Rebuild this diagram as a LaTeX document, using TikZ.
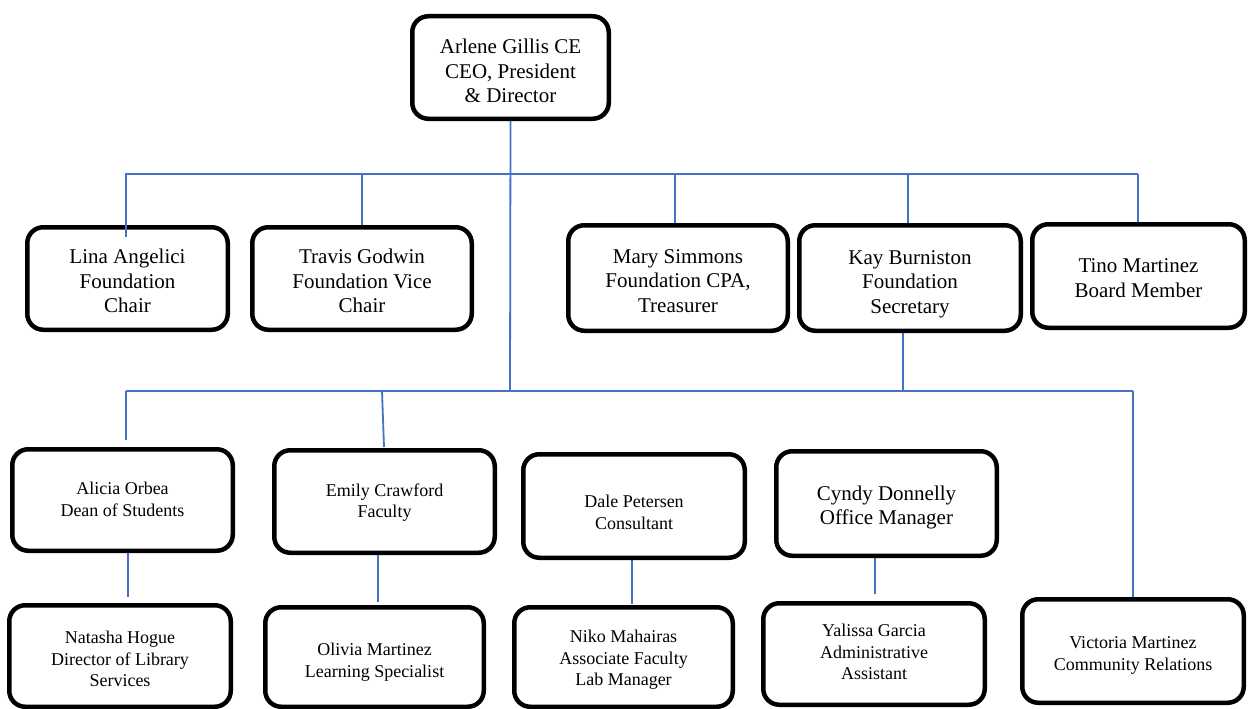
\documentclass[tikz,border=0pt]{standalone}
\usepackage{fontspec}
\setmainfont{Liberation Serif}
\usetikzlibrary{calc}
\definecolor{connblue}{HTML}{4472C4}
\pgfdeclarelayer{background}
\pgfsetlayers{background,main}
\tikzset{
  orgbox/.style={draw=black, line width=4.5pt, rounded corners=16pt, fill=white, align=center, inner sep=2pt},
  bigtext/.style={font=\fontsize{21}{24.5}\selectfont},
  smalltext/.style={font=\fontsize{18}{21.5}\selectfont},
  conn/.style={draw=connblue, line width=1.8pt}
}
\newcommand\boxlines[2]{\raisebox{#1}[\height][\depth]{\begin{tabular}{@{}c@{}}#2\end{tabular}}}
\begin{document}
\begin{tikzpicture}[x=1pt,y=-1pt]
\useasboundingbox (0,0) rectangle (1248,709);

% boxes
\node[orgbox, bigtext, minimum width=196.5pt, minimum height=102.5pt] (ceo) at (510.5,67.5) {\boxlines{-6pt}{Arlene Gillis CE\\CEO, President\\\& Director}};
\node[orgbox, bigtext, minimum width=200.5pt, minimum height=102.5pt] (lina) at (127.5,278.5) {\boxlines{-5pt}{Lina Angelici\\Foundation\\Chair}};
\node[orgbox, bigtext, minimum width=219.5pt, minimum height=102.5pt] (travis) at (362,278.5) {\boxlines{-5pt}{Travis Godwin\\Foundation Vice\\Chair}};
\node[orgbox, bigtext, minimum width=219.5pt, minimum height=105.5pt] (mary) at (678,278) {\boxlines{-5pt}{Mary Simmons\\Foundation CPA,\\Treasurer}};
\node[orgbox, bigtext, minimum width=221.5pt, minimum height=105.5pt] (kay) at (910,278) {\boxlines{-6pt}{Kay Burniston\\Foundation\\Secretary}};
\node[orgbox, bigtext, minimum width=212.5pt, minimum height=103.5pt] (tino) at (1138.5,276) {\boxlines{-4pt}{Tino Martinez\\Board Member}};

\node[orgbox, smalltext, minimum width=220.5pt, minimum height=101.5pt] (alicia) at (122.5,500) {\boxlines{-1pt}{Alicia Orbea\\Dean of Students}};
\node[orgbox, smalltext, minimum width=220.5pt, minimum height=102.5pt] (emily) at (384.5,501.5) {\boxlines{-1pt}{Emily Crawford\\Faculty}};
\node[orgbox, smalltext, minimum width=221.5pt, minimum height=103.5pt] (dale) at (634,506) {\boxlines{-8pt}{Dale Petersen\\Consultant}};
\node[orgbox, bigtext, minimum width=220.5pt, minimum height=104.5pt] (cyndy) at (886.5,503.5) {\boxlines{-4pt}{Cyndy Donnelly\\Office Manager}};

\node[orgbox, smalltext, minimum width=221.5pt, minimum height=101.5pt] (natasha) at (120,656) {\boxlines{-5pt}{Natasha Hogue\\Director of Library\\Services}};
\node[orgbox, smalltext, minimum width=218.5pt, minimum height=99.5pt] (olivia) at (374.5,657) {\boxlines{-5pt}{Olivia Martinez\\Learning Specialist}};
\node[orgbox, smalltext, minimum width=218.5pt, minimum height=99.5pt] (niko) at (623.5,657) {\boxlines{-3pt}{Niko Mahairas\\Associate Faculty\\Lab Manager}};
\node[orgbox, smalltext, minimum width=221.5pt, minimum height=101.5pt] (yalissa) at (874,654) {\boxlines{0pt}{Yalissa Garcia\\Administrative\\Assistant}};
\node[orgbox, smalltext, minimum width=221.5pt, minimum height=103.5pt] (victoria) at (1133,651) {\boxlines{-4pt}{Victoria Martinez\\Community Relations}};

% bus coordinates
\coordinate (b1L) at (125,174);
\coordinate (b1R) at (1138,174);
\coordinate (b1lina) at (126,174);
\coordinate (b1travis) at (362,174);
\coordinate (b1mary) at (675,174);
\coordinate (b1kay) at (908,174);
\coordinate (b2L) at (126,391);
\coordinate (b2R) at (1133,391);
\coordinate (b2ceo) at (510,391);
\coordinate (b2kay) at (903,391);
\coordinate (b2emily) at (382,391);
\coordinate (linaend) at (126,237);
\coordinate (kayout) at (903,332);
\coordinate (aliciain) at (126,440);
\coordinate (emilyin) at (384,447);
\coordinate (aliciaout) at (128,552);
\coordinate (natashain) at (128,597);
\coordinate (emilyout) at (378,554);
\coordinate (oliviain) at (378,602);
\coordinate (daleout) at (632,559);
\coordinate (nikoin) at (632,604);
\coordinate (cyndyout) at (875,557);
\coordinate (yalissain) at (875,594);

% connectors (behind boxes)
\begin{pgfonlayer}{background}
\fill[white] (0,0) rectangle (1248,709);
\draw[conn] (b1L) -- (b1R);
\draw[conn] (b2L) -- (b2R);
\draw[conn] (ceo.south) -- (b2ceo);
\draw[conn] (b1travis) -- (travis.north);
\draw[conn] (b1mary) -- (675,224);
\draw[conn] (b1kay) -- (908,224);
\draw[conn] (b1R) -- (1138,223);
\draw[conn] (kayout) -- (b2kay);
\draw[conn] (b2L) -- (aliciain);
\draw[conn] (b2emily) -- (emilyin);
\draw[conn] (b2R) -- (victoria.north);
\draw[conn] (aliciaout) -- (natashain);
\draw[conn] (emilyout) -- (oliviain);
\draw[conn] (daleout) -- (nikoin);
\draw[conn] (cyndyout) -- (yalissain);
\end{pgfonlayer}
\draw[conn] (b1lina) -- (linaend);
\end{tikzpicture}
\end{document}
